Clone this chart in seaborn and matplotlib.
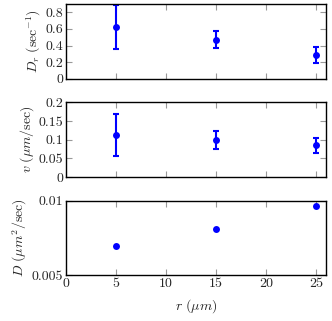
import numpy as np
import pandas as pd
import matplotlib
matplotlib.use("Agg")
import matplotlib.pyplot as plt
from matplotlib.ticker import FuncFormatter
import seaborn as sns

# données
r = [5, 15, 25]
Dr = [0.625, 0.47, 0.287]
Dr_err = [0.265, 0.10, 0.093]
v = [0.113, 0.100, 0.085]
v_err = [0.057, 0.024, 0.020]
D = [0.00698, 0.00808, 0.00964]

sns.set_style("ticks")
plt.rcParams["font.family"] = "serif"
plt.rcParams["font.serif"] = ["cmr10"]
plt.rcParams["mathtext.fontset"] = "cm"
plt.rcParams["axes.formatter.use_mathtext"] = True
plt.rcParams["axes.unicode_minus"] = False

df = pd.DataFrame({"r": r, "Dr": Dr, "Dr_err": Dr_err, "v": v, "v_err": v_err, "D": D})

fig, axes = plt.subplots(3, 1, figsize=(3.32, 3.21), dpi=100, sharex=True)
fig.subplots_adjust(left=0.199, right=0.982, top=0.9875, bottom=0.142, hspace=0.316)

blue = "#0000ff"
fmt = FuncFormatter(lambda val, pos: "%g" % val)

panels = [
    ("Dr", "Dr_err", r"$D_r\ (\mathrm{sec}^{-1})$", (0, 0.9), [0, 0.2, 0.4, 0.6, 0.8]),
    ("v", "v_err", r"$v\ (\mu m/\mathrm{sec})$", (0, 0.2), [0, 0.05, 0.1, 0.15, 0.2]),
    ("D", None, r"$D\ (\mu m^2/\mathrm{sec})$", (0.005, 0.01), [0.005, 0.01]),
]

for ax, (col, err, label, ylim, yticks) in zip(axes, panels):
    if err is not None:
        ax.errorbar(df["r"], df[col], yerr=df[err], fmt="none", ecolor=blue,
                    elinewidth=1.5, capsize=2.5, capthick=1.5)
    sns.scatterplot(data=df, x="r", y=col, ax=ax, color=blue, s=25,
                    edgecolor=blue, linewidth=0, zorder=3)
    ax.set_ylim(*ylim)
    ax.set_yticks(yticks)
    ax.yaxis.set_major_formatter(fmt)
    ax.set_ylabel(label, fontsize=10, labelpad=2)
    ax.set_xlabel("")
    ax.tick_params(direction="in", top=True, right=True, length=4,
                   color="#999999", labelsize=10, pad=2)
    for s in ax.spines.values():
        s.set_linewidth(1.0)
        s.set_color("black")

axes[-1].set_xlim(0, 26)
axes[-1].set_xticks([0, 5, 10, 15, 20, 25])
axes[-1].xaxis.set_major_formatter(fmt)
axes[-1].set_xlabel(r"$r\ (\mu m)$", fontsize=10, labelpad=5)

fig.savefig("out.png", dpi=100)
